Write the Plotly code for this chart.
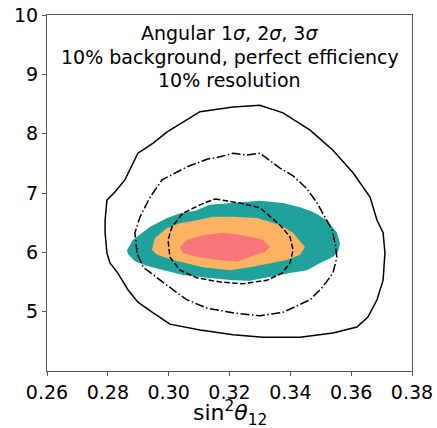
import plotly.graph_objects as go

# ---- data (contour vertices) ----
# filled contours (Angular 1σ, 2σ, 3σ)
fill3_x = [0.2863, 0.2883, 0.2939, 0.2995, 0.3037, 0.3087, 0.3136, 0.3212, 0.3300, 0.3376,
           0.3432, 0.3475, 0.3521, 0.3553, 0.3563, 0.3557, 0.3540, 0.3498, 0.3455, 0.3399,
           0.3333, 0.3267, 0.3212, 0.3126, 0.3047, 0.2995, 0.2929, 0.2889, 0.2866]
fill3_y = [6.04, 6.21, 6.43, 6.58, 6.66, 6.70, 6.80, 6.83, 6.87, 6.83,
           6.76, 6.68, 6.54, 6.33, 6.16, 6.01, 5.92, 5.82, 5.70, 5.65,
           5.58, 5.52, 5.53, 5.57, 5.62, 5.69, 5.77, 5.85, 5.97]

fill2_x = [0.2945, 0.2955, 0.2995, 0.3037, 0.3093, 0.3146, 0.3212, 0.3290, 0.3366, 0.3409,
           0.3448, 0.3432, 0.3389, 0.3343, 0.3267, 0.3202, 0.3113, 0.3014, 0.2962]
fill2_y = [6.04, 6.24, 6.41, 6.49, 6.54, 6.60, 6.60, 6.58, 6.46, 6.33,
           6.09, 5.96, 5.87, 5.82, 5.75, 5.70, 5.75, 5.87, 5.96]

fill1_x = [0.3037, 0.3060, 0.3113, 0.3179, 0.3244, 0.3310, 0.3333, 0.3317, 0.3267, 0.3225,
           0.3159, 0.3093, 0.3047]
fill1_y = [6.09, 6.21, 6.29, 6.33, 6.29, 6.21, 6.09, 6.01, 5.92, 5.84,
           5.87, 5.92, 5.99]

# line contours (1σ dashed, 2σ dash-dot, 3σ solid)
line1_x = [0.3152, 0.3235, 0.3300, 0.3366, 0.3399, 0.3409, 0.3399, 0.3373, 0.3323, 0.3244,
           0.3169, 0.3093, 0.3037, 0.3004, 0.2998, 0.3011, 0.3047, 0.3103, 0.3152]
line1_y = [6.90, 6.83, 6.75, 6.46, 6.26, 6.04, 5.82, 5.65, 5.53, 5.47,
           5.50, 5.57, 5.70, 5.92, 6.21, 6.43, 6.66, 6.80, 6.90]

line2_x = [0.2896, 0.2889, 0.2906, 0.2939, 0.2978, 0.3060, 0.3126, 0.3169, 0.3212, 0.3258,
           0.3300, 0.3366, 0.3409, 0.3455, 0.3488, 0.3521, 0.3537, 0.3547, 0.3553, 0.3540,
           0.3507, 0.3465, 0.3376, 0.3300, 0.3212, 0.3126, 0.3060, 0.3014, 0.2962, 0.2916,
           0.2896]
line2_y = [5.99, 6.33, 6.60, 6.93, 7.22, 7.44, 7.57, 7.61, 7.67, 7.64,
           7.67, 7.42, 7.29, 7.07, 6.83, 6.54, 6.38, 6.16, 5.92, 5.65,
           5.42, 5.20, 4.99, 4.93, 4.98, 5.06, 5.20, 5.37, 5.58, 5.75,
           5.99]

line3_x = [0.2797, 0.2791, 0.2791, 0.2797, 0.2824, 0.2856, 0.2899, 0.2949, 0.2995, 0.3047,
           0.3103, 0.3212, 0.3300, 0.3376, 0.3465, 0.3540, 0.3606, 0.3662, 0.3685, 0.3705,
           0.3711, 0.3705, 0.3685, 0.3655, 0.3619, 0.3540, 0.3432, 0.3310, 0.3212, 0.3103,
           0.3004, 0.2949, 0.2899, 0.2866, 0.2833, 0.2807, 0.2797]
line3_y = [5.99, 6.33, 6.54, 6.88, 7.02, 7.22, 7.67, 7.84, 8.03, 8.20,
           8.37, 8.45, 8.48, 8.35, 8.06, 7.72, 7.34, 6.93, 6.54, 6.33,
           5.99, 5.53, 5.20, 4.91, 4.74, 4.64, 4.57, 4.57, 4.61, 4.69,
           4.79, 4.98, 5.16, 5.37, 5.65, 5.82, 5.99]

x_ticks = [0.26, 0.28, 0.30, 0.32, 0.34, 0.36, 0.38]
y_ticks = [5, 6, 7, 8, 9, 10]
text_lines = ["Angular 1<i>σ</i>, 2<i>σ</i>, 3<i>σ</i>",
              "10% background, perfect efficiency",
              "10% resolution"]
x_title = "sin<sup>2</sup><i>θ</i><sub>12</sub>"

# ---- figure ----
FONT = "DejaVu Sans"
PLOT_TOP, PLOT_H = 15, 356


def paper_y(py):
    return 1 - (py - PLOT_TOP) / PLOT_H


fig = go.Figure()

for xs, ys, col in [(fill3_x, fill3_y, "#21a19b"),
                    (fill2_x, fill2_y, "#fdb462"),
                    (fill1_x, fill1_y, "#f7767a")]:
    fig.add_trace(go.Scatter(x=xs, y=ys, mode="lines", fill="toself",
                             fillcolor=col, line=dict(width=0, color=col),
                             hoverinfo="skip", showlegend=False))

for xs, ys, dash in [(line1_x, line1_y, "5.5px,2.4px"),
                     (line2_x, line2_y, "9px,2.5px,1.5px,2.5px"),
                     (line3_x, line3_y, "solid")]:
    fig.add_trace(go.Scatter(x=xs, y=ys, mode="lines",
                             line=dict(color="black", width=1.5, dash=dash),
                             hoverinfo="skip", showlegend=False))

for t, py in zip(text_lines, [33, 57, 80]):
    fig.add_annotation(text=t, x=0.5, xref="paper", y=paper_y(py), yref="paper",
                       showarrow=False, font=dict(family=FONT, size=19, color="black"),
                       xanchor="center", yanchor="middle")

fig.add_annotation(text=x_title, x=0.5, xref="paper", y=paper_y(413), yref="paper",
                   showarrow=False, font=dict(family=FONT, size=22, color="black"),
                   xanchor="center", yanchor="middle")

fig.update_layout(
    width=437, height=428,
    margin=dict(l=47, r=25, t=15, b=57, autoexpand=False),
    paper_bgcolor="white", plot_bgcolor="white",
    font=dict(family=FONT, size=19, color="black"),
    xaxis=dict(range=[0.26, 0.38], tickvals=x_ticks,
               ticktext=[f"{v:.2f}" for v in x_ticks], automargin=False,
               showgrid=False, zeroline=False, showline=True, mirror=True,
               linecolor="#555", linewidth=1, ticks="outside", ticklen=4,
               tickcolor="#555"),
    yaxis=dict(range=[4, 10], tickvals=y_ticks, automargin=False,
               showgrid=False, zeroline=False, showline=True, mirror=True,
               linecolor="#555", linewidth=1, ticks="outside", ticklen=4,
               tickcolor="#555"),
)

fig.write_html("out.html", config={"displayModeBar": False},
               post_script="document.body.style.margin='0';document.body.style.padding='0';")
